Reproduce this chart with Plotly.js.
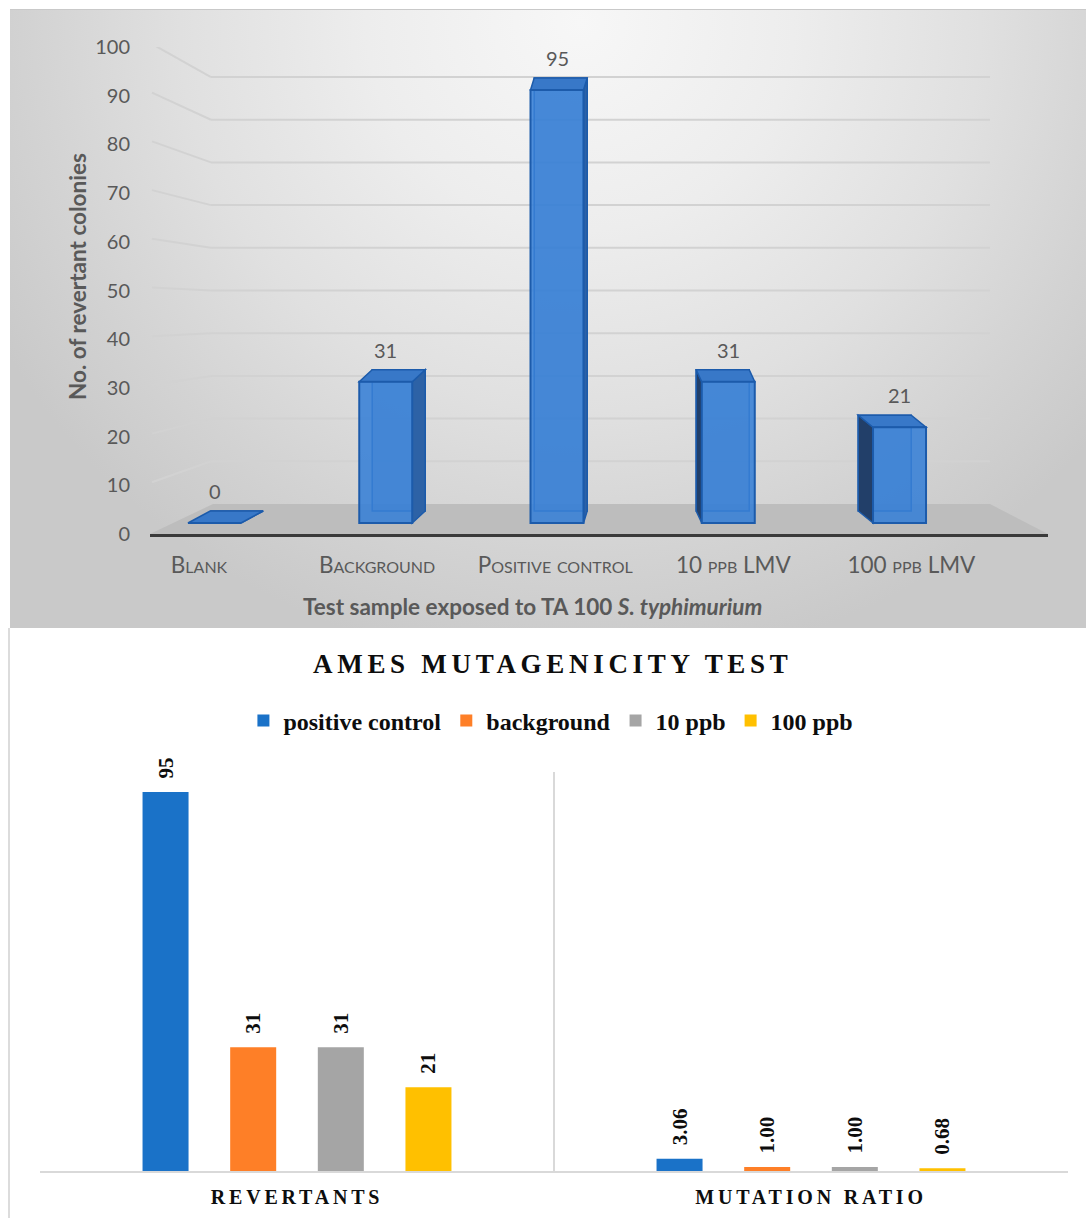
<!DOCTYPE html>
<html>
<head>
<meta charset="utf-8">
<script src="https://cdn.plot.ly/plotly-3.0.1.min.js"></script>
<style>
  html, body { margin: 0; padding: 0; background: #ffffff; }
  body { width: 1086px; height: 1218px; position: relative; overflow: hidden; }
  #panelFrame { position: absolute; left: 10px; top: 9px; width: 1076px; height: 1px; background: #c9c9c9; }
  #revertants3d {
    position: absolute; left: 10px; top: 10px; width: 1076px; height: 618px;
    background: radial-gradient(ellipse 62% 105% at 53% 2%, #f7f7f7 0%, #ededed 32%, #e0e0e0 60%, #d3d3d3 82%, #c9c9c9 100%);
  }
  #amesFrame { position: absolute; left: 8px; top: 628px; width: 2px; height: 590px; background: #dcdcdc; }
  #amesTest { position: absolute; left: 0; top: 628px; width: 1086px; height: 590px; }
  #amesTest .gtitle { letter-spacing: 4.7px; }
  #amesTest .xtick text { letter-spacing: 3.8px; }
</style>
</head>
<body>
<div id="panelFrame"></div>
<div id="revertants3d"></div>
<div id="amesFrame"></div>
<div id="amesTest"></div>
<script>
// ---- data: revertant colonies per test sample (TA 100) ----
const categories = ['Blank', 'Background', 'Positive control', '10 ppb LMV', '100 ppb LMV'];
const revertantColonies = [0, 31, 95, 31, 21];
const yTicks = [0, 10, 20, 30, 40, 50, 60, 70, 80, 90, 100];

// ---- data: Ames mutagenicity summary ----
const groups = ['REVERTANTS', 'MUTATION RATIO'];
const seriesNames = ['positive control', 'background', '10 ppb', '100 ppb'];
const revertants = [95, 31, 31, 21];
const mutationRatio = [3.06, 1.00, 1.00, 0.68];
const seriesColors = ['#1a72c8', '#fe7f27', '#a5a5a5', '#ffc000'];

// ================= 3-D style column chart =================
const W1 = 1076, H1 = 618;
const m1 = { l: 140, r: 38, t: 37, b: 94 };
const plotH1 = H1 - m1.t - m1.b;

// three depth planes share the same pixel box: front (tick labels), bar plane, back wall
const frontRange = [0, 100];
const barRange = [-2.413, 104.43];
const backRange = [-7.026, 107.03];
const barXRange = [-0.3766, 4.867];
const labelXRange = [-0.2751, 4.767];

const pxPerFront = plotH1 / (frontRange[1] - frontRange[0]);
const pxPerBar = plotH1 / (barRange[1] - barRange[0]);
const backToFront = v => (v - backRange[0]) / (backRange[1] - backRange[0]) * (frontRange[1] - frontRange[0]) + frontRange[0];

const wallLeft = 0.0679, wallRight = 0.9354, floorBackLeft = 0.0702, sideStart = 0.0022;
const edgeBlue = '#1c5bab';

const shapes1 = [];
// floor
shapes1.push({
  type: 'path', xref: 'x domain', yref: 'y3', layer: 'below',
  path: `M0,${backRange[0]} L1,${backRange[0]} L${wallRight},0 L${floorBackLeft},0 Z`,
  fillcolor: '#bdbdbd', line: { width: 0 }
});
// wall gridlines
yTicks.filter(v => v > 0).forEach(v => {
  shapes1.push({
    type: 'line', xref: 'x domain', yref: 'y3', layer: 'below',
    x0: wallLeft, x1: wallRight, y0: v, y1: v,
    line: { color: '#d2d2d2', width: 2 }
  });
  shapes1.push({
    type: 'line', xref: 'x domain', yref: 'y', layer: 'below',
    x0: sideStart, x1: wallLeft, y0: v + 3 / pxPerFront, y1: backToFront(v),
    line: { color: '#d2d2d2', width: 2 }
  });
});

// box depth of each column (perspective towards the centre)
const half = 26.5, depthPx = 12, vanishIdx = 2.4, depthStep = 9.25;
const depthU = depthPx / pxPerBar;
revertantColonies.forEach((v, i) => {
  const dx = depthStep * (vanishIdx - i);
  const base = { xref: 'x2', xsizemode: 'pixel', xanchor: i, yref: 'y2', layer: 'below', type: 'path' };
  // back face
  shapes1.push(Object.assign({}, base, {
    path: `M${-half + dx},${depthU} L${half + dx},${depthU} L${half + dx},${v + depthU} L${-half + dx},${v + depthU} Z`,
    fillcolor: 'rgba(40,100,180,0.30)', line: { color: edgeBlue, width: 1.5 }
  }));
  // side face
  const ex = dx >= 0 ? half : -half;
  shapes1.push(Object.assign({}, base, {
    path: `M${ex},0 L${ex + dx},${depthU} L${ex + dx},${v + depthU} L${ex},${v} Z`,
    fillcolor: dx >= 0 ? '#2d62a6' : '#223f69', line: { color: edgeBlue, width: 1.5 }
  }));
  // top face
  shapes1.push(Object.assign({}, base, {
    path: `M${-half},${v} L${half},${v} L${half + dx},${v + depthU} L${-half + dx},${v + depthU} Z`,
    fillcolor: '#3878c8', line: { color: edgeBlue, width: 1.5 }
  }));
});

const greyText = '#595959';
// value labels sit above the back edge of each column top
const annotations1 = revertantColonies.map((v, i) => ({
  x: i, y: v + depthU, xref: 'x2', yref: 'y2', text: String(v), showarrow: false,
  yanchor: 'middle', yshift: 20,
  font: { family: 'Lato, sans-serif', size: 20, color: greyText }
}));
annotations1.push({
  xref: 'paper', yref: 'paper', x: 0.4254, y: -0.148, xanchor: 'center', yanchor: 'middle',
  showarrow: false, text: 'Test sample exposed to TA 100 <i>S. typhimurium</i>',
  font: { family: 'Lato, sans-serif', size: 22.5, color: greyText, weight: 'bold' }
});
annotations1.push({
  xref: 'paper', yref: 'paper', x: -0.0802, y: 0.5298, xanchor: 'center', yanchor: 'middle',
  showarrow: false, textangle: -90, text: 'No. of revertant colonies',
  font: { family: 'Lato, sans-serif', size: 22.5, color: greyText, weight: 'bold' }
});

const columnTrace = {
  type: 'bar', x: categories.map((_, i) => i), y: revertantColonies,
  xaxis: 'x2', yaxis: 'y2', width: 0.3095,
  marker: { color: 'rgba(55,128,214,0.88)', line: { color: edgeBlue, width: 2 } },
  hoverinfo: 'skip', showlegend: false
};

const layout1 = {
  width: W1, height: H1, margin: m1,
  paper_bgcolor: 'rgba(0,0,0,0)', plot_bgcolor: 'rgba(0,0,0,0)',
  showlegend: false,
  // front edge of the floor carries the category names
  xaxis: {
    range: labelXRange, showline: true, linecolor: '#3a3a3a', linewidth: 3,
    tickvals: categories.map((_, i) => i), ticktext: categories,
    showgrid: false, zeroline: false, ticks: '',
    tickfont: { family: 'Lato, sans-serif', size: 22.5, color: greyText, variant: 'small-caps' },
    ticklabelstandoff: 9, fixedrange: true
  },
  // column plane
  xaxis2: {
    overlaying: 'x', anchor: 'y2', range: barXRange, visible: false, fixedrange: true
  },
  yaxis: {
    range: frontRange, tickvals: yTicks, showgrid: false, zeroline: false, showline: false,
    ticks: '', tickfont: { family: 'Lato, sans-serif', size: 20, color: greyText },
    ticklabelstandoff: 19, fixedrange: true
  },
  yaxis2: { overlaying: 'y', anchor: 'x', range: barRange, visible: false, fixedrange: true },
  yaxis3: { overlaying: 'y', anchor: 'x', range: backRange, visible: false, fixedrange: true },
  shapes: shapes1,
  annotations: annotations1
};

Plotly.newPlot('revertants3d', [columnTrace], layout1, { displayModeBar: false, staticPlot: true });

// ================= grouped summary chart =================
const serif = 'Liberation Serif, Times New Roman, serif';
const summaryTraces = seriesNames.map((name, k) => ({
  type: 'bar', name: name, x: groups, y: [revertants[k], mutationRatio[k]],
  text: [revertants[k].toFixed(0), mutationRatio[k].toFixed(2)].map(t => '\u00a0\u00a0' + t),
  textposition: 'outside', textangle: -90, constraintext: 'none', cliponaxis: false,
  textfont: { family: serif, size: 21, color: '#0d0d0d', weight: 'bold' },
  marker: { color: seriesColors[k] }, hoverinfo: 'skip'
}));

const W2 = 1086, H2 = 590;
const m2 = { l: 40, r: 18, t: 144, b: 47 };
const plotH2 = H2 - m2.t - m2.b;

const layout2 = {
  width: W2, height: H2, margin: m2,
  paper_bgcolor: 'rgba(0,0,0,0)', plot_bgcolor: 'rgba(0,0,0,0)',
  barmode: 'group', bargap: 0.318, bargroupgap: 0.475,
  title: {
    text: 'AMES MUTAGENICITY TEST',
    font: { family: serif, size: 27, color: '#0d0d0d', weight: 'bold' },
    xref: 'container', x: 0.509, xanchor: 'center',
    yref: 'container', y: 1 - 36 / H2, yanchor: 'middle'
  },
  showlegend: true,
  legend: {
    orientation: 'h', xref: 'paper', x: 0.497, xanchor: 'center',
    yref: 'paper', y: (plotH2 + m2.t - 93) / plotH2, yanchor: 'middle',
    font: { family: serif, size: 24, color: '#0d0d0d', weight: 'bold' },
    bgcolor: 'rgba(0,0,0,0)'
  },
  xaxis: {
    type: 'category', tickson: 'boundaries', showgrid: true, gridcolor: '#d9d9d9', gridwidth: 2,
    showline: true, linecolor: '#d9d9d9', linewidth: 2, ticks: '', zeroline: false,
    tickfont: { family: serif, size: 20, color: '#0d0d0d', weight: 'bold' },
    ticklabelstandoff: 7, fixedrange: true
  },
  yaxis: { range: [0, 100], visible: false, fixedrange: true }
};

Plotly.newPlot('amesTest', summaryTraces, layout2, { displayModeBar: false, staticPlot: true });
</script>
</body>
</html>
